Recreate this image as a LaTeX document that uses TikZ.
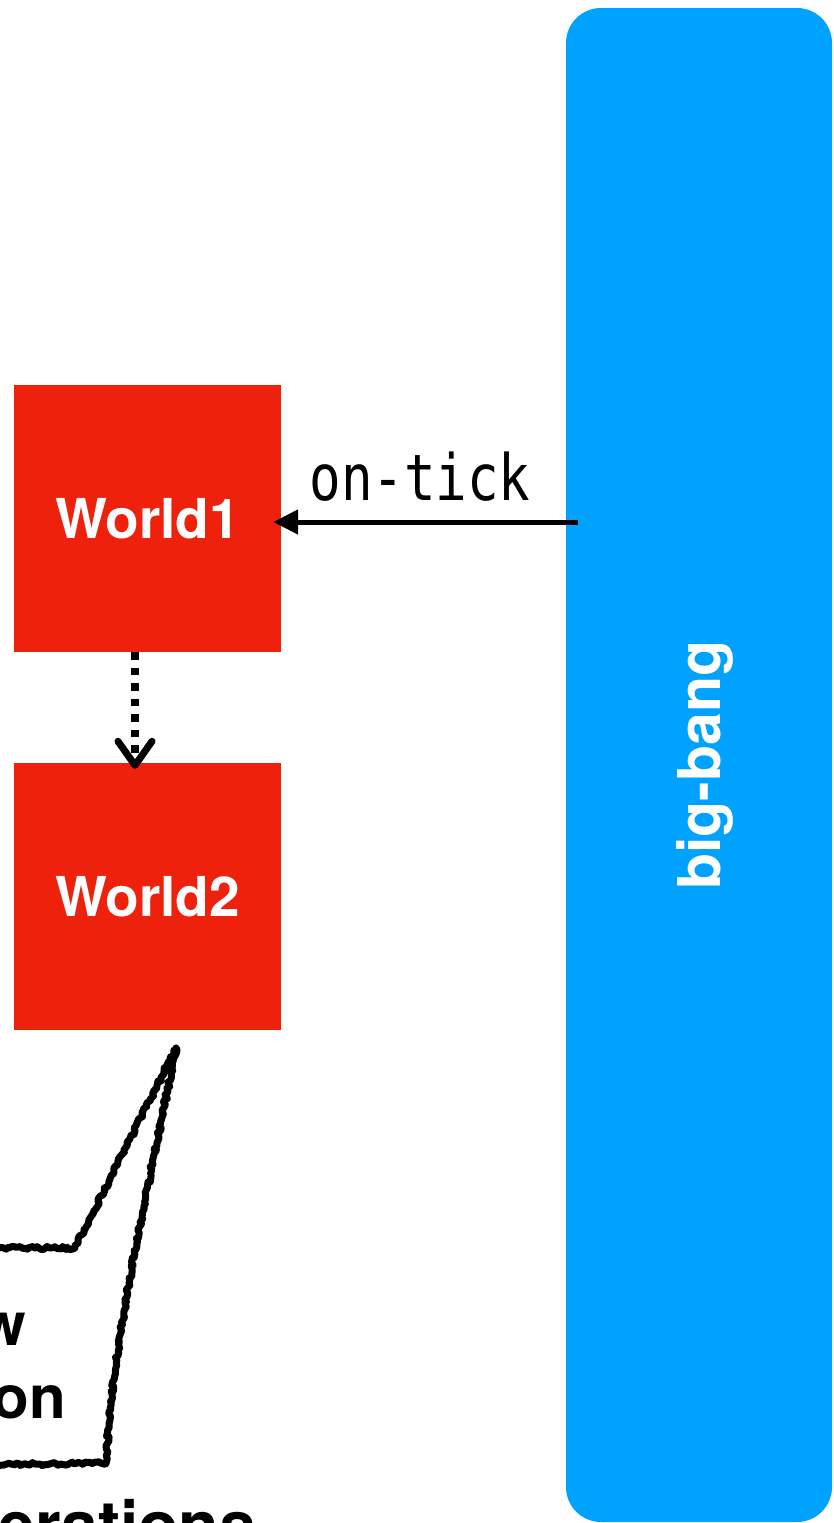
\documentclass[tikz,border=0pt]{standalone}
\usepackage{fontspec}
\setmainfont{TeX Gyre Heros}
\newfontfamily\tickfont[FakeStretch=0.82]{DejaVu Sans Mono}
\usetikzlibrary{arrows.meta,decorations.pathmorphing}
\definecolor{worldred}{RGB}{238,34,12}
\definecolor{bangblue}{RGB}{0,162,255}
\tikzset{
  worldbox/.style={fill=worldred, minimum width=267pt, minimum height=267pt,
    inner sep=0pt, text=white, font=\bfseries\fontsize{55}{66}\selectfont},
  bangbox/.style={fill=bangblue, rounded corners=35pt, inner sep=0pt,
    text=white, text depth=0pt, font=\bfseries\fontsize{59}{70}\selectfont},
  tickarrow/.style={line width=5pt, -{Triangle[length=25pt,width=24pt]}},
  stepsarrow/.style={line width=7.5pt, dash pattern=on 7.5pt off 8pt,
    -{Straight Barb[length=24pt,width=34pt,line width=7pt,round]}},
  sketchy/.style={line width=7pt, line join=round, line cap=round,
    decorate, decoration={random steps, segment length=2.5pt, amplitude=1.6pt}},
  calltext/.style={inner sep=0pt, font=\bfseries\fontsize{60}{72}\selectfont},
  ticklabel/.style={inner sep=0pt, font=\tickfont\fontsize{64}{76}\selectfont}
}
\begin{document}
\begin{tikzpicture}[x=1pt, y=-1pt]
  \useasboundingbox (0,0) rectangle (834,1523);
  \clip (0,0) rectangle (834,1523);

  % the big-bang driver bar
  \node[bangbox, rotate=90, minimum width=1514pt, minimum height=266pt]
    (bigbang) at (699,765) {big-bang};

  % world states
  \node[worldbox] (world1) at (147.5,518.5) {World1};
  \node[worldbox] (world2) at (147.5,896.5) {World2};

  % tick handler call
  \coordinate (tickfrom) at (578,522);
  \draw[tickarrow, shorten >=-8pt] (tickfrom) -- (tickfrom -| world1.east);
  \node[ticklabel, anchor=base] (ontick) at (420,500) {on-tick};

  % transition from one world to the next
  \draw[stepsarrow, shorten >=-6pt]
    ([xshift=-12.5pt]world1.south) -- ([xshift=-12.5pt]world2.north);

  % hand-drawn speech bubble pointing at World2
  \pgfmathsetseed{7}
  \coordinate (bubbletip) at (176,1048);
  \draw[sketchy] (-20,1248) -- (75,1248) -- (bubbletip)
    .. controls (150,1180) and (112,1340) .. (106,1463) -- (-20,1465);

  % bubble text, cut by the left edge
  \node[calltext, anchor=base east] (lineone) at (26,1345) {w};
  \node[calltext, anchor=base east] (linetwo) at (66,1418) {on};
  \node[calltext, anchor=base east, font=\bfseries\fontsize{66}{78}\selectfont]
    (linethree) at (256,1548) {erations};
\end{tikzpicture}
\end{document}
